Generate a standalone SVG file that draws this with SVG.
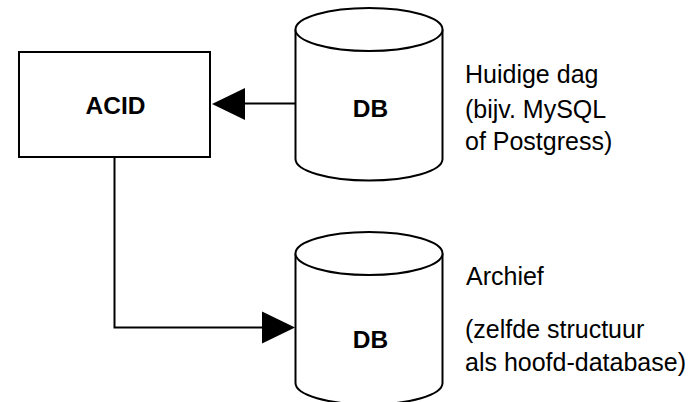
<svg xmlns="http://www.w3.org/2000/svg" width="698" height="402" viewBox="0 0 698 402">
  <style>
    .shape { fill: #ffffff; stroke: #000000; stroke-width: 2; }
    .edge { fill: none; stroke: #000000; stroke-width: 2; }
    .head { fill: #000000; stroke: none; }
    .title { font-family: "Liberation Sans", Arial, sans-serif; font-weight: bold; font-size: 24.5px; fill: #000000; text-anchor: middle; }
    .note { font-family: "Liberation Sans", Arial, sans-serif; font-size: 25px; fill: #000000; }
  </style>
  <rect width="698" height="402" fill="#ffffff"/>

  <g id="connectors">
    <!-- DB (current) -> ACID -->
    <line class="edge" x1="295" y1="103.5" x2="244" y2="103.5"/>
    <polygon class="head" points="212,104 245,88 245,120"/>
    <!-- ACID -> DB (archive) -->
    <polyline class="edge" points="114.5,157 114.5,327.5 263,327.5"/>
    <polygon class="head" points="295,327.5 262,311.5 262,343.5"/>
  </g>

  <g id="acid">
    <rect class="shape" x="19" y="52" width="191" height="105"/>
    <text class="title" x="115.5" y="114">ACID</text>
  </g>

  <g id="db-current">
    <path class="shape" d="M295.5,29.5 L295.5,159 A73.5,21.5 0 0 0 442.5,159 L442.5,29.5"/>
    <ellipse class="shape" cx="369" cy="29.5" rx="73.5" ry="21.5"/>
    <text class="title" x="370.5" y="117">DB</text>
  </g>

  <g id="db-archive">
    <path class="shape" d="M295.5,253.5 L295.5,383 A73.5,21.5 0 0 0 442.5,383 L442.5,253.5"/>
    <ellipse class="shape" cx="369" cy="253.5" rx="73.5" ry="21.5"/>
    <text class="title" x="370.5" y="348">DB</text>
  </g>

  <g id="label-current">
    <text class="note" x="465" y="83">Huidige dag</text>
    <text class="note" x="465" y="118">(bijv. MySQL</text>
    <text class="note" x="465" y="150">of Postgress)</text>
  </g>

  <g id="label-archive">
    <text class="note" x="466" y="285">Archief</text>
    <text class="note" x="465" y="338">(zelfde structuur</text>
    <text class="note" x="465" y="371">als hoofd-database)</text>
  </g>
</svg>
